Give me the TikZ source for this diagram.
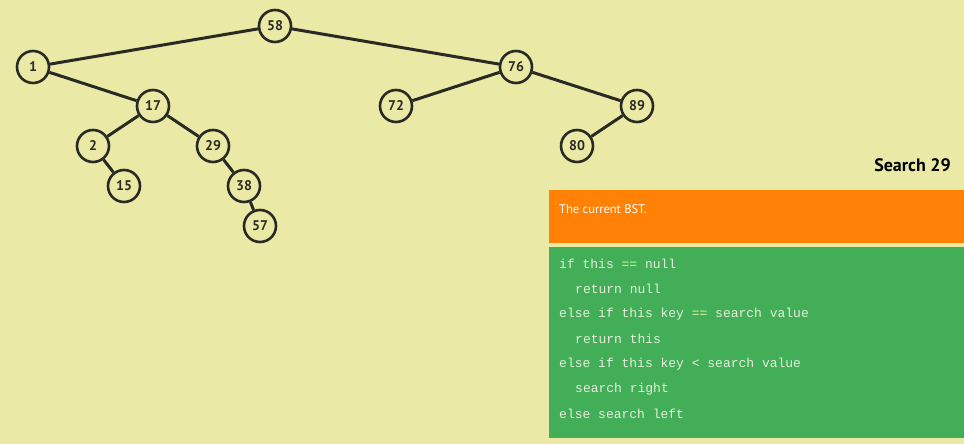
\documentclass[tikz,border=0pt]{standalone}
\usepackage{fontspec}
\setmainfont{PT Sans}
\setmonofont{Liberation Mono}
\definecolor{bg}{HTML}{EAEAA6}
\definecolor{ink}{HTML}{2A2A24}
\definecolor{orangebox}{HTML}{FF8207}
\definecolor{greenbox}{HTML}{42AE57}
\definecolor{codetxt}{HTML}{E6EEDC}
\definecolor{eqtxt}{HTML}{D6F2A0}
\begin{document}
\begin{tikzpicture}[x=1pt,y=-1pt,
  bst/.style={circle,draw=ink,line width=2.6pt,fill=bg,minimum size=32pt,inner sep=0pt,
    font=\fontsize{14}{14}\selectfont\bfseries,text=ink},
  edge/.style={draw=ink,line width=3pt},
  codeline/.style={anchor=west,inner sep=0pt,text=codetxt,font=\ttfamily\fontsize{13}{13}\selectfont}]
\fill[bg] (0,0) rectangle (964,444);
\useasboundingbox (0,0) rectangle (964,444);
% nodes
\node[bst] (n58) at (275,26) {58};
\node[bst] (n1) at (33,67) {1};
\node[bst] (n76) at (516,67) {76};
\node[bst] (n17) at (153,106) {17};
\node[bst] (n72) at (396,106) {72};
\node[bst] (n89) at (637,106) {89};
\node[bst] (n2) at (93,146) {2};
\node[bst] (n29) at (213,146) {29};
\node[bst] (n80) at (577,146) {80};
\node[bst] (n15) at (124,186) {15};
\node[bst] (n38) at (244,186) {38};
\node[bst] (n57) at (260,226) {57};
% edges
\draw[edge] (n58) -- (n1);
\draw[edge] (n58) -- (n76);
\draw[edge] (n1) -- (n17);
\draw[edge] (n17) -- (n2);
\draw[edge] (n17) -- (n29);
\draw[edge] (n2) -- (n15);
\draw[edge] (n29) -- (n38);
\draw[edge] (n38) -- (n57);
\draw[edge] (n76) -- (n72);
\draw[edge] (n76) -- (n89);
\draw[edge] (n89) -- (n80);
% title
\node[anchor=east,inner sep=0pt,text=black,font=\fontsize{18}{18}\selectfont\bfseries] (title) at (951,165) {Search 29};
% orange box
\fill[orangebox] (549,190) rectangle (964,243);
\node[anchor=west,inner sep=0pt,text=white,font=\fontsize{12.5}{12.5}\selectfont] (status) at (559,209) {The current BST.};
% green box
\fill[greenbox] (549,247) rectangle (964,438);
\node[codeline] (c1) at (559,264) {if this \textcolor{eqtxt}{==} null};
\node[codeline] (c2) at (575,289) {return null};
\node[codeline] (c3) at (559,314) {else if this key \textcolor{eqtxt}{==} search value};
\node[codeline] (c4) at (575,339) {return this};
\node[codeline] (c5) at (559,364) {else if this key < search value};
\node[codeline] (c6) at (575,389) {search right};
\node[codeline] (c7) at (559,414) {else search left};
\end{tikzpicture}
\end{document}
